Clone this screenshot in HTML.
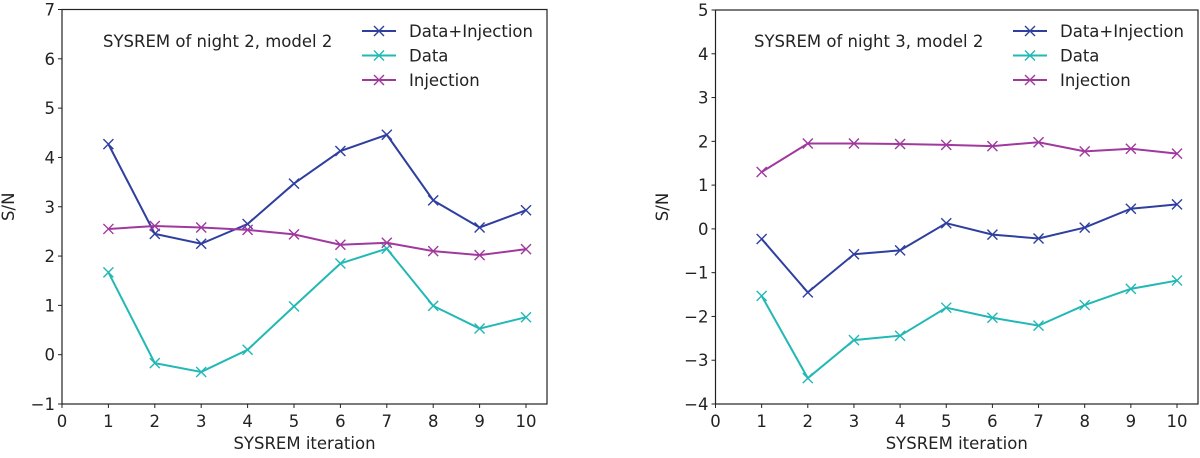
<!DOCTYPE html>
<html><head><meta charset="utf-8"><style>
body{margin:0;background:#fff;}
svg text{font-family:"DejaVu Sans","Liberation Sans",sans-serif;fill:#222;}
</style></head><body>
<svg id="c" width="1200" height="453" xmlns="http://www.w3.org/2000/svg"></svg>
<script>
const iterations=[1,2,3,4,5,6,7,8,9,10];
const xTicks=[0,1,2,3,4,5,6,7,8,9,10];
const leftYTicks=[-1,0,1,2,3,4,5,6,7];
const rightYTicks=[-4,-3,-2,-1,0,1,2,3,4,5];
const leftDataInj=[4.27,2.45,2.25,2.65,3.47,4.13,4.46,3.13,2.58,2.93];
const leftData=[1.67,-0.17,-0.35,0.1,0.98,1.85,2.15,0.99,0.53,0.76];
const leftInj=[2.55,2.61,2.58,2.53,2.44,2.23,2.27,2.1,2.02,2.14];
const rightDataInj=[-0.23,-1.45,-0.58,-0.49,0.13,-0.13,-0.22,0.03,0.46,0.56];
const rightData=[-1.53,-3.41,-2.54,-2.44,-1.8,-2.03,-2.21,-1.74,-1.37,-1.18];
const rightInj=[1.3,1.95,1.95,1.94,1.92,1.89,1.98,1.77,1.83,1.72];
const seriesNames=["Data+Injection","Data","Injection"];
const colors=["#2f3f9f","#22b8b5","#a0399e"];
const svg=document.getElementById('c');
const NS="http://www.w3.org/2000/svg";
function mk(tag,attrs,parent){const e=document.createElementNS(NS,tag);for(const k in attrs)e.setAttribute(k,attrs[k]);(parent||svg).appendChild(e);return e;}
function panel(p){
  const g=mk('g',{});
  
  
  const sx=v=>p.x0+(v-0)*(p.x10-p.x0)/10;
  const sy=v=>p.yb+(v-p.ymin)*(p.yt-p.yb)/(p.ymax-p.ymin);
  const frame=mk('rect',{x:p.x0,y:p.yt,width:p.xr-p.x0,height:p.yb-p.yt,fill:'none',stroke:'#222','stroke-width':1.2},g);
  
  
  xTicks.forEach(t=>{
    mk('line',{x1:sx(t),x2:sx(t),y1:p.yb,y2:p.yb+4,stroke:'#222'},g);
    const tx=mk('text',{x:sx(t),y:p.yb+23,'text-anchor':'middle','font-size':16.5},g);tx.textContent=t;
    
    
  });
  p.yTicks.forEach(t=>{
    mk('line',{x1:p.x0-4,x2:p.x0,y1:sy(t),y2:sy(t),stroke:'#222'},g);
    const tx=mk('text',{x:p.x0-7,y:sy(t)+6,'text-anchor':'end','font-size':16.5},g);tx.textContent=t<0?'\u2212'+(-t):t;
    
    
  });
  const xl=mk('text',{x:(p.x0+p.xr)/2,y:449,'text-anchor':'middle','font-size':16.5},g);xl.textContent='SYSREM iteration';
  
  
  const yl=mk('text',{x:p.ylx,y:(p.yt+p.yb)/2,'text-anchor':'middle','font-size':16.5,transform:`rotate(-90 ${p.ylx} ${(p.yt+p.yb)/2})`},g);yl.textContent='S/N';
  
  
  p.series.forEach((s,i)=>{
    const pts=iterations.map((it,j)=>sx(it)+','+sy(s[j])).join(' ');
    const pl=mk('polyline',{points:pts,fill:'none',stroke:colors[i],'stroke-width':2},g);
    
    
    iterations.forEach((it,j)=>{
      const x=sx(it),y=sy(s[j]),r=5;
      mk('path',{d:`M${x-r},${y-r}L${x+r},${y+r}M${x-r},${y+r}L${x+r},${y-r}`,stroke:colors[i],'stroke-width':1.4},g);
    });
    const ly=p.legY+i*24.5;
    mk('line',{x1:p.legX,x2:p.legX+34,y1:ly,y2:ly,stroke:colors[i],'stroke-width':2},g);
    const mx=p.legX+17,r=5;
    mk('path',{d:`M${mx-r},${ly-r}L${mx+r},${ly+r}M${mx-r},${ly+r}L${mx+r},${ly-r}`,stroke:colors[i],'stroke-width':1.4},g);
    const lt=mk('text',{x:p.legX+47,y:ly+6,'font-size':16.5},g);lt.textContent=seriesNames[i];
    
    
  });
  const tt=mk('text',{x:p.tx,y:47,'font-size':16.5},g);tt.textContent=p.title;
  
  
}
panel({name:'night-2-panel',x0:62,x10:526,xr:547,yt:9.5,yb:404,ymin:-1,ymax:7,yTicks:leftYTicks,ylx:14,
  series:[leftDataInj,leftData,leftInj],legX:362,legY:31,tx:103,title:'SYSREM of night 2, model 2'});
panel({name:'night-3-panel',x0:715.5,x10:1177,xr:1198,yt:10,yb:404,ymin:-4,ymax:5,yTicks:rightYTicks,ylx:668,
  series:[rightDataInj,rightData,rightInj],legX:1013,legY:31,tx:754,title:'SYSREM of night 3, model 2'});
</script>
</body></html>
